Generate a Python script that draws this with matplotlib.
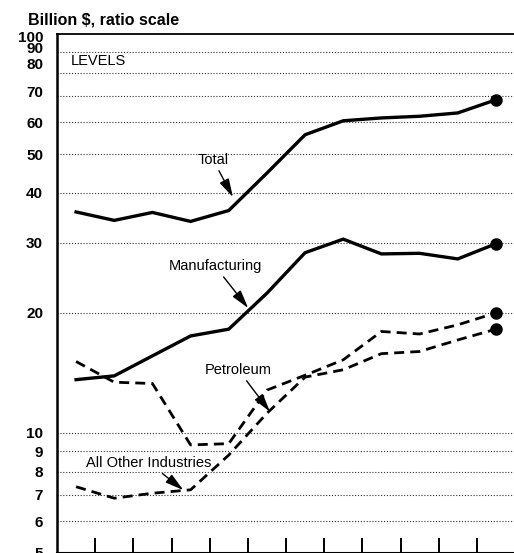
import matplotlib
matplotlib.use("Agg")
import matplotlib.pyplot as plt
import matplotlib.transforms as mtransforms
import numpy as np

# values (billion $, ratio scale)
years = [1977, 1978, 1979, 1980, 1981, 1982, 1983, 1984, 1985, 1986, 1987, 1988]
total = [35.8, 34.1, 35.7, 33.9, 36.1, 44.8, 55.9, 60.6, 61.6, 62.2, 63.4, 68.4]
manufacturing = [13.6, 13.9, 15.6, 17.5, 18.2, 22.4, 28.3, 30.6, 28.1, 28.2, 27.3, 29.8]
petroleum = [15.1, 13.4, 13.3, 9.33, 9.4, 12.8, 13.95, 15.25, 17.96, 17.7, 18.66, 20.0]
all_other = [7.33, 6.86, 7.06, 7.2, 8.8, 11.2, 13.8, 14.4, 15.8, 16.0, 17.1, 18.2]

ytick_vals = [5, 6, 7, 8, 9, 10, 20, 30, 40, 50, 60, 70, 80, 90, 100]
grid_vals = [6, 7, 8, 9, 10, 20, 30, 40, 50, 60, 70, 80, 90]

plt.rcParams['font.family'] = ['Liberation Sans', 'DejaVu Sans']

fig = plt.figure(figsize=(5.14, 5.53), dpi=100)
ax = fig.add_axes([57 / 514, 0.0, 458 / 514, 519 / 553])

ax.set_yscale('log')
ax.set_ylim(5, 100)
ax.set_xlim(years[0] - 0.5, years[-1] + 0.5)

for g in grid_vals:
    ax.axhline(g, color='#333333', lw=0.8, ls=(0, (1, 1.6)), zorder=1)

solid = dict(color='black', lw=2.4, solid_joinstyle='miter', zorder=3)
dashed = dict(color='black', lw=2.0, ls=(0, (3.6, 2.2)), zorder=3)

ax.plot(years, total, **solid)
ax.plot(years, manufacturing, **solid)
ax.plot(years, petroleum, **dashed)
ax.plot(years, all_other, **dashed)

# end-of-series dots
for s in (total, manufacturing, petroleum, all_other):
    ax.plot(years[-1], s[-1], 'o', color='black', ms=8, zorder=4)

# ticks
ax.set_yticks(ytick_vals)
ax.set_yticklabels([str(v) for v in ytick_vals])
ax.yaxis.set_minor_locator(matplotlib.ticker.NullLocator())
ax.tick_params(axis='y', length=0, pad=10, labelsize=11)
for lab in ax.get_yticklabels():
    lab.set_fontweight('bold')

# the top labels are spread apart in the original (pixels, + is up)
shift = {'100': -2.5, '90': 5, '80': 9, '70': 4}
for lab in ax.get_yticklabels():
    dy = shift.get(lab.get_text(), 0)
    if dy:
        off = mtransforms.ScaledTranslation(0, dy / fig.dpi, fig.dpi_scale_trans)
        lab.set_transform(lab.get_transform() + off)

ax.set_xticks([y + 0.5 for y in years[:-1]])
ax.set_xticklabels([])
ax.tick_params(axis='x', direction='in', length=11, width=1.4)

ax.spines['right'].set_visible(False)
ax.spines['top'].set_linewidth(1.3)
ax.spines['left'].set_linewidth(1.8)
ax.spines['bottom'].set_linewidth(1.5)

fig.text(28 / 514, 1 - 20 / 553, 'Billion $, ratio scale', fontsize=11.5,
         fontweight='bold', ha='left', va='center')

ax.text(1976.87, 85.8, 'LEVELS', fontsize=10.5, ha='left', va='center')

arrow = dict(arrowstyle='-|>,head_length=0.8,head_width=0.22', color='black',
             lw=1.0, mutation_scale=14, shrinkA=1, shrinkB=0)
ax.annotate('Total', xy=(1981.11, 39.0), xytext=(1980.59, 48.4),
            fontsize=10.5, ha='center', va='center', arrowprops=arrow)
ax.annotate('Manufacturing', xy=(1981.51, 20.55), xytext=(1980.64, 26.2),
            fontsize=10.5, ha='center', va='center', arrowprops=arrow)
ax.annotate('Petroleum', xy=(1982.08, 11.3), xytext=(1981.25, 14.39),
            fontsize=10.5, ha='center', va='center', arrowprops=arrow)
ax.annotate('All Other Industries', xy=(1979.81, 7.19), xytext=(1978.91, 8.41),
            fontsize=10.5, ha='center', va='center', arrowprops=arrow)

fig.savefig('out.png', dpi=100)
